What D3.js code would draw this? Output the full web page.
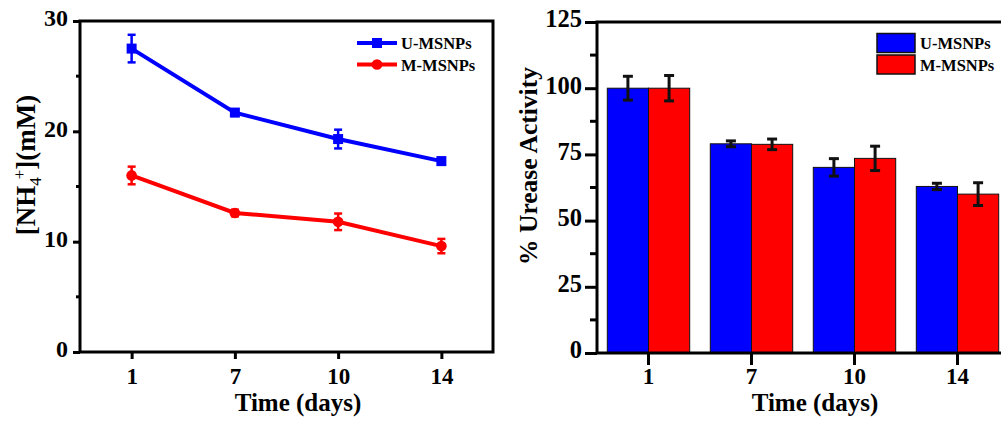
<!DOCTYPE html>
<html>
<head>
<meta charset="utf-8">
<script src="https://cdn.jsdelivr.net/npm/d3@7"></script>
<style>
  body { margin: 0; background: #fff; }
  svg { display: block; }
  text { font-family: "Liberation Serif", "Times New Roman", serif; font-weight: bold; fill: #000; }
</style>
</head>
<body>
<svg width="1001" height="421"></svg>
<script>
// data
const days = ['1', '7', '10', '14']
const series = ['U-MSNPs', 'M-MSNPs']
const colors = ['#0000ff', '#ff0000']

// left panel: [NH4+] (mM)
const nhU = [27.5, 21.7, 19.3, 17.3]
const nhUerr = [1.25, 0.3, 0.85, 0.3]
const nhM = [16.0, 12.6, 11.8, 9.6]
const nhMerr = [0.8, 0.3, 0.75, 0.65]
const nhTicks = [0, 10, 20, 30]
const nhMinor = [5, 15, 25]

// right panel: % urease activity
const actU = [100, 79, 70.1, 62.9]
const actUerr = [4.5, 1.1, 3.3, 1.2]
const actM = [100, 78.8, 73.5, 60]
const actMerr = [4.8, 2.0, 4.6, 4.3]
const actTicks = [0, 25, 50, 75, 100, 125]
const actMinor = [12.5, 37.5, 62.5, 87.5, 112.5]

const svg = d3.select('svg')

const styleAxis = (a, size) => {
  a.select('.domain').remove()
  a.selectAll('.tick line').attr('stroke-width', 3)
  a.selectAll('text').style('font-size', size + 'px')
}

// ---------- left: line chart ----------
const L = {left: 80, right: 493, top: 21, bottom: 352}
const x1 = d3.scalePoint().domain(days).range([L.left, L.right]).padding(0.5)
const y1 = d3.scaleLinear().domain([0, 30]).range([L.bottom, L.top])

const g1 = svg.append('g')

const yAx1 = g1.append('g').attr('transform', `translate(${L.left},0)`)
  .call(d3.axisLeft(y1).tickValues(nhTicks).tickSize(7).tickPadding(5).tickFormat(d3.format('d')))
styleAxis(yAx1, 24)
yAx1.selectAll('.tick text').attr('dy', '0.2em')
yAx1.append('g').selectAll('line').data(nhMinor).join('line')
  .attr('x1', -4).attr('x2', 0).attr('y1', d => y1(d)).attr('y2', d => y1(d))
  .attr('stroke', '#000').attr('stroke-width', 3)

const xAx1 = g1.append('g').attr('transform', `translate(0,${L.bottom})`)
  .call(d3.axisBottom(x1).tickSize(7).tickPadding(9))
styleAxis(xAx1, 23)

// frame
g1.append('rect').attr('x', L.left).attr('y', L.top)
  .attr('width', L.right - L.left).attr('height', L.bottom - L.top)
  .attr('fill', 'none').attr('stroke', '#000').attr('stroke-width', 3)

const lineData = [
  {name: series[0], vals: nhU, errs: nhUerr, color: colors[0], sym: d3.symbol().type(d3.symbolSquare).size(100)},
  {name: series[1], vals: nhM, errs: nhMerr, color: colors[1], sym: d3.symbol().type(d3.symbolCircle).size(90)},
]
const line = d3.line().x((d, i) => x1(days[i])).y(d => y1(d))

lineData.forEach(s => {
  g1.append('path').attr('d', line(s.vals))
    .attr('fill', 'none').attr('stroke', s.color).attr('stroke-width', 4)
  const eb = g1.append('g').attr('stroke', s.color).attr('stroke-width', 2.5)
  s.vals.forEach((v, i) => {
    const cx = x1(days[i])
    const top = y1(v + s.errs[i]), bot = y1(v - s.errs[i])
    eb.append('line').attr('x1', cx).attr('x2', cx).attr('y1', top).attr('y2', bot)
    eb.append('line').attr('x1', cx - 4).attr('x2', cx + 4).attr('y1', top).attr('y2', top)
    eb.append('line').attr('x1', cx - 4).attr('x2', cx + 4).attr('y1', bot).attr('y2', bot)
  })
  g1.append('g').selectAll('path').data(s.vals).join('path')
    .attr('transform', (d, i) => `translate(${x1(days[i])},${y1(d)})`)
    .attr('d', s.sym).attr('fill', s.color)
})

// legend (left)
lineData.forEach((s, i) => {
  const ly = 43 + i * 21.5
  const lg = g1.append('g')
  lg.append('line').attr('x1', 357).attr('x2', 397).attr('y1', ly).attr('y2', ly)
    .attr('stroke', s.color).attr('stroke-width', 4)
  lg.append('path').attr('transform', `translate(377,${ly})`)
    .attr('d', s.sym).attr('fill', s.color)
  lg.append('text').attr('x', 401).attr('y', ly + 6).style('font-size', '16.5px').text(s.name)
})

// axis titles (left)
g1.append('text').attr('x', 298).attr('y', 411)
  .attr('text-anchor', 'middle').style('font-size', '25px').text('Time (days)')
const yt1 = g1.append('text').attr('transform', 'translate(35,165) rotate(-90)')
  .attr('text-anchor', 'middle').style('font-size', '27px')
yt1.append('tspan').text('[NH')
yt1.append('tspan').text('4').attr('dy', 6).style('font-size', '17px').style('font-weight', 'normal')
yt1.append('tspan').text('+').attr('dx', -2).attr('dy', -16).style('font-size', '17px').style('font-weight', 'normal')
yt1.append('tspan').text('](mM)').attr('dy', 10)

// ---------- right: grouped bars ----------
const R = {left: 597, right: 1009, top: 22, bottom: 353}
const x2 = d3.scaleBand().domain(days).range([R.left, R.right]).paddingInner(0.2).paddingOuter(0.1)
const xs = d3.scaleBand().domain(series).range([0, x2.bandwidth()])
const y2 = d3.scaleLinear().domain([0, 125]).range([R.bottom, R.top])

const g2 = svg.append('g')

const barData = [
  {name: series[0], vals: actU, errs: actUerr, color: colors[0]},
  {name: series[1], vals: actM, errs: actMerr, color: colors[1]},
]

barData.forEach(s => {
  g2.append('g').selectAll('rect').data(s.vals).join('rect')
    .attr('x', (d, i) => x2(days[i]) + xs(s.name))
    .attr('y', d => y2(d))
    .attr('width', xs.bandwidth())
    .attr('height', d => R.bottom - y2(d))
    .attr('fill', s.color).attr('stroke', '#111').attr('stroke-width', 1)
})

barData.forEach(s => {
  const eb = g2.append('g').attr('stroke', '#111').attr('stroke-width', 3)
  s.vals.forEach((v, i) => {
    const cx = x2(days[i]) + xs(s.name) + xs.bandwidth() / 2
    const top = y2(v + s.errs[i]), bot = y2(v - s.errs[i])
    eb.append('line').attr('x1', cx).attr('x2', cx).attr('y1', top).attr('y2', bot)
    eb.append('line').attr('x1', cx - 5).attr('x2', cx + 5).attr('y1', top).attr('y2', top)
    eb.append('line').attr('x1', cx - 5).attr('x2', cx + 5).attr('y1', bot).attr('y2', bot)
  })
})

const yAx2 = g2.append('g').attr('transform', `translate(${R.left},0)`)
  .call(d3.axisLeft(y2).tickValues(actTicks).tickSize(12).tickPadding(3).tickFormat(d3.format('d')))
styleAxis(yAx2, 24.5)
yAx2.selectAll('.tick text').attr('dy', '0.2em')
yAx2.append('g').selectAll('line').data(actMinor).join('line')
  .attr('x1', -7).attr('x2', 0).attr('y1', d => y2(d)).attr('y2', d => y2(d))
  .attr('stroke', '#000').attr('stroke-width', 3)

const xAx2 = g2.append('g').attr('transform', `translate(0,${R.bottom})`)
  .call(d3.axisBottom(x2).tickSize(12).tickPadding(3))
styleAxis(xAx2, 23)

g2.append('rect').attr('x', R.left).attr('y', R.top)
  .attr('width', R.right - R.left).attr('height', R.bottom - R.top)
  .attr('fill', 'none').attr('stroke', '#000').attr('stroke-width', 3)

// legend (right)
barData.forEach((s, i) => {
  const ly = 33.5 + i * 21.5
  g2.append('rect').attr('x', 877).attr('y', ly).attr('width', 38).attr('height', 19)
    .attr('fill', s.color).attr('stroke', '#111').attr('stroke-width', 1.5)
  g2.append('text').attr('x', 920).attr('y', ly + 15.5).style('font-size', '16.5px').text(s.name)
})

g2.append('text').attr('x', 815).attr('y', 411)
  .attr('text-anchor', 'middle').style('font-size', '25px').text('Time (days)')
g2.append('text').attr('transform', 'translate(537,166) rotate(-90)')
  .attr('text-anchor', 'middle').style('font-size', '25.5px').text('% Urease Activity')
</script>
</body>
</html>
